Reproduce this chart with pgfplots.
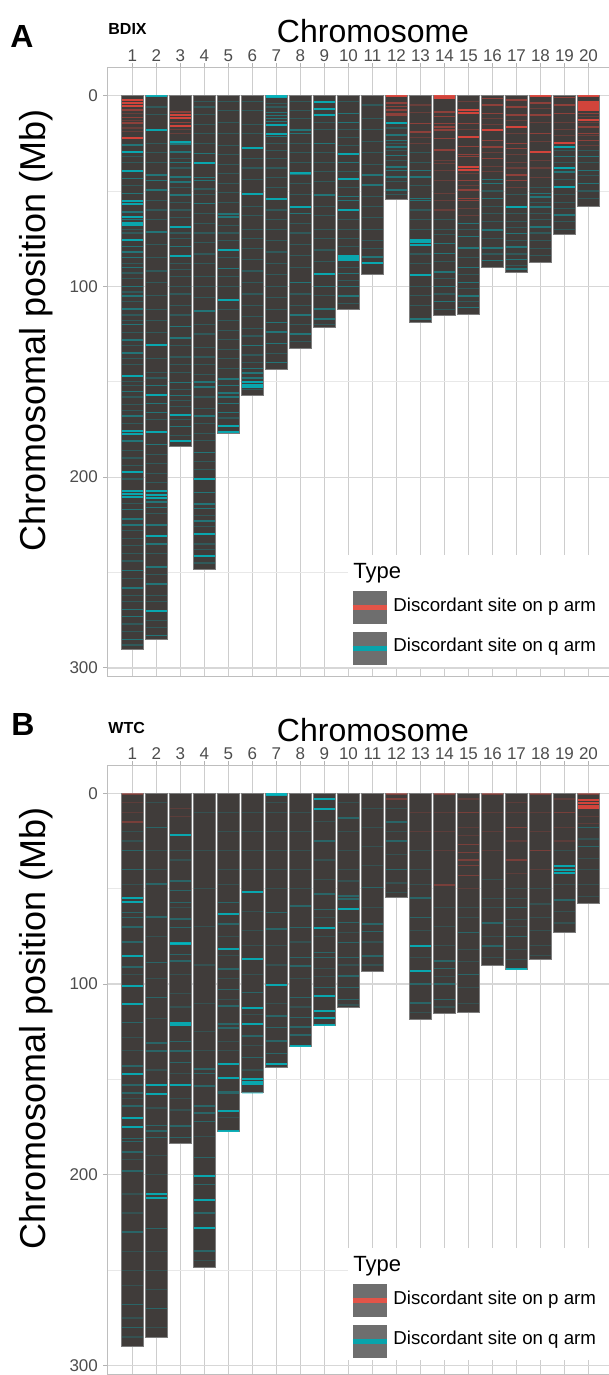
\documentclass[border=0pt]{standalone}
\usepackage{fontspec}
\setmainfont{Liberation Sans}
\usepackage{pgfplots}
\usepackage{pgfplotstable}
\pgfplotsset{compat=1.18}
\definecolor{barcol}{RGB}{64,60,58}
\definecolor{barline}{RGB}{125,125,125}
\definecolor{stred}{RGB}{235,70,60}
\definecolor{stcy}{RGB}{0,185,195}
\definecolor{legred}{RGB}{226,84,72}
\definecolor{legcy}{RGB}{8,164,172}
\definecolor{keygray}{RGB}{110,110,110}
\definecolor{ticklab}{RGB}{77,77,77}
\definecolor{gridx}{RGB}{205,205,205}
\definecolor{gridmaj}{RGB}{215,215,215}
\definecolor{gridmin}{RGB}{232,232,232}
\definecolor{bordcol}{RGB}{190,190,190}

% chromosome lengths (Mb)
\pgfplotstableread[row sep=\\]{x y\\
1 290.1\\ 2 285.1\\ 3 183.7\\ 4 248.3\\ 5 177.2\\ 6 156.9\\ 7 143.5\\ 8 132.5\\ 9 121.5\\ 10 112.2\\
11 93.5\\ 12 54.5\\ 13 118.7\\ 14 115.2\\ 15 114.6\\ 16 90.1\\ 17 92.5\\ 18 87.2\\ 19 72.9\\ 20 57.8\\}\chrlen

% ---------------- Panel A (BDIX) ----------------
\pgfplotstableread[row sep=\\]{x y\\
1 2.5\\ 1 4\\ 1 5.5\\ 1 22.5\\ 3 10\\ 3 12\\ 3 16\\ 12 0.3\\ 14 0.3\\ 14 1.2\\
15 7.6\\ 15 9.4\\ 15 21.6\\ 15 37.7\\ 15 38.8\\ 16 18.1\\ 17 16.4\\ 18 0.3\\ 18 29.5\\ 19 25.1\\
20 0.3\\ 20 3.5\\ 20 4.5\\ 20 5.5\\ 20 6.5\\ 20 7.4\\ 20 12.9\\}\Arb
\pgfplotstableread[row sep=\\]{x y\\
1 7.5\\ 1 11.5\\ 1 14.5\\ 3 8.5\\ 3 14\\
12 4\\ 12 5.8\\ 12 7.6\\ 12 9.4\\ 12 10.2\\ 13 14.6\\ 13 19\\
14 8.5\\ 14 11\\ 14 14.6\\ 14 16.4\\ 14 18.1\\ 14 22.5\\ 14 28.6\\
15 14.6\\ 15 26.8\\ 15 31\\ 15 32\\ 15 44.4\\ 15 49.6\\ 15 54\\ 15 55\\
16 1.5\\ 16 5\\ 16 9.4\\ 16 23.5\\ 16 27\\ 16 33\\
17 2.4\\ 17 5.9\\ 17 10.2\\ 17 25.1\\ 17 27.7\\ 17 41.7\\ 17 44.4\\
18 4\\ 18 10.2\\ 18 19.9\\ 19 1\\ 19 5\\ 19 9.4\\ 20 9.4\\ 20 16.4\\ 20 19.9\\ 20 23.5\\}\Arm
\pgfplotstableread[row sep=\\]{x y\\
1 9.5\\ 1 13\\ 1 17\\ 1 19\\ 3 18\\ 3 20\\ 13 5\\ 13 9\\ 13 22\\ 13 25\\
14 34\\ 14 35.6\\ 14 39.2\\ 14 44.4\\ 14 51.4\\ 14 55\\ 14 60\\
15 3\\ 15 18\\ 15 41\\ 15 47\\ 15 59\\ 15 63\\ 16 12\\ 16 15\\ 16 30\\ 16 37\\ 16 40\\
17 13\\ 17 20\\ 17 31\\ 17 35\\ 17 38\\ 17 48\\ 18 7\\ 18 14\\ 18 24\\ 18 34\\ 18 38\\ 18 43\\
19 14\\ 19 18\\ 19 21\\ 20 11\\ 20 14\\ 20 21\\ 20 26\\}\Arf
\pgfplotstableread[row sep=\\]{x y\\
1 29.5\\ 1 39.5\\ 1 55.5\\ 1 57\\ 1 63.5\\ 1 66.8\\ 1 68\\ 1 75.9\\ 1 147.2\\ 1 176\\ 1 177.4\\ 1 197.5\\ 1 207.5\\ 1 209\\ 1 210.5\\
2 0.3\\ 2 18\\ 2 131\\ 2 157.2\\ 2 176.5\\ 2 207.5\\ 2 209.5\\ 2 211\\ 2 230.7\\ 2 270\\
3 24.2\\ 3 68.9\\ 3 84\\ 3 167.5\\ 3 180.8\\ 4 35.6\\ 4 201\\ 4 230\\ 4 241.5\\
5 81\\ 5 107\\ 5 173\\ 5 176.5\\ 6 27.7\\ 6 51.4\\ 6 150.2\\ 6 151.5\\ 6 152.9\\
7 0.3\\ 7 1\\ 7 15.5\\ 7 19.9\\ 7 54\\ 8 40.5\\ 8 58.4\\ 9 3.2\\ 9 7.3\\ 9 10.2\\ 9 93.3\\
10 30.7\\ 10 44\\ 10 60.1\\ 10 84\\ 10 85.2\\ 10 86.4\\ 11 88\\ 12 14.6\\
13 75.5\\ 13 77\\ 13 78.5\\ 13 94.2\\ 17 58.4\\ 19 26.8\\ 19 38.2\\ 19 47.9\\}\Aqb
\pgfplotstableread[row sep=\\]{x y\\
1 26\\ 1 43.5\\ 1 51.4\\ 1 61\\ 1 65\\ 1 79\\ 1 82\\ 1 85\\ 1 90\\ 1 100\\ 1 105\\ 1 112\\ 1 120\\ 1 128\\ 1 135\\ 1 155\\ 1 168\\ 1 181\\ 1 217\\ 1 222\\ 1 225\\ 1 249\\ 1 258\\ 1 269.3\\ 1 273\\ 1 285\\
2 41.7\\ 2 44.4\\ 2 49.6\\ 2 71.5\\ 2 152\\ 2 161.5\\ 2 166\\ 2 183\\ 2 213\\ 2 216\\ 2 225\\ 2 235\\ 2 247\\ 2 256\\ 2 283\\
3 25.5\\ 3 29.5\\ 3 35\\ 3 42.6\\ 3 45.2\\ 3 52\\ 3 79\\ 3 121\\ 3 127\\ 3 150.5\\ 3 157.2\\ 3 173.5\\
4 30.4\\ 4 43\\ 4 44.5\\ 4 56.6\\ 4 113\\ 4 150.2\\ 4 152.8\\ 4 168\\ 4 187\\ 4 208\\ 4 214\\ 4 216.5\\ 4 223\\
5 62\\ 5 63.6\\ 5 90.7\\ 5 148.5\\ 5 152\\ 5 156\\ 5 158\\ 5 161.5\\ 5 166\\
6 131\\ 6 143\\ 6 145.5\\ 6 148\\
7 9\\ 7 10.5\\ 7 12\\ 7 13.5\\ 7 21.5\\ 7 119\\ 7 124\\ 7 130\\ 7 140\\
8 18\\ 8 20\\ 8 41.5\\ 8 61.9\\ 8 98\\ 8 115\\ 8 125\\
9 25.1\\ 9 52.2\\ 9 100\\ 9 112\\ 9 117\\
10 9.4\\ 10 14\\ 10 35\\ 10 53\\ 10 55\\ 10 93.3\\ 10 100\\ 10 105\\
11 41.7\\ 11 47\\ 11 84.6\\
12 20.7\\ 12 23.5\\ 12 27\\ 12 31.5\\ 12 37.4\\ 12 39.2\\ 12 42.6\\ 12 49.6\\
13 39.2\\ 13 42.6\\ 13 54\\ 13 55\\ 13 117\\
14 77.6\\ 14 82.9\\ 14 92.5\\ 14 100\\ 14 108\\
15 67\\ 15 74\\ 15 80\\ 15 90\\ 15 98\\ 15 105\\ 15 111\\
16 44\\ 16 46\\ 16 54\\ 16 70.6\\ 16 80\\ 16 86.4\\
17 72.4\\ 17 79.4\\ 17 86\\ 17 91\\ 18 51.4\\ 18 53.1\\ 18 58.4\\ 18 68.9\\
19 32\\ 19 40\\ 19 62.7\\ 20 32\\ 20 39.2\\ 20 46.2\\}\Aqm
\pgfplotstableread[row sep=\\]{x y\\
1 32\\ 1 35\\ 1 47\\ 1 70\\ 1 72\\ 1 88\\ 1 93\\ 1 96\\ 1 103\\ 1 108\\ 1 115\\ 1 118\\ 1 124\\ 1 131\\ 1 138\\ 1 141\\ 1 150\\ 1 152\\ 1 158\\ 1 162\\ 1 165\\ 1 172\\ 1 186\\ 1 190\\ 1 194\\ 1 201\\ 1 214\\ 1 228\\ 1 232\\ 1 236\\ 1 240\\ 1 244\\ 1 253\\ 1 262\\ 1 265\\ 1 277\\ 1 281\\ 1 288\\
2 6\\ 2 10\\ 2 25\\ 2 30\\ 2 35\\ 2 55\\ 2 60\\ 2 65\\ 2 78\\ 2 85\\ 2 92\\ 2 98\\ 2 105\\ 2 112\\ 2 118\\ 2 124\\ 2 138\\ 2 145\\ 2 148\\ 2 170\\ 2 188\\ 2 193\\ 2 198\\ 2 203\\ 2 219\\ 2 240\\ 2 251\\ 2 262\\ 2 265\\ 2 275\\ 2 279\\
3 33\\ 3 38\\ 3 48\\ 3 56\\ 3 60\\ 3 64\\ 3 72\\ 3 75\\ 3 88\\ 3 91\\ 3 95\\ 3 100\\ 3 104\\ 3 110\\ 3 115\\ 3 131\\ 3 137\\ 3 141\\ 3 145\\ 3 154\\ 3 160\\ 3 163\\ 3 170\\ 3 178\\
4 3\\ 4 6\\ 4 10\\ 4 15\\ 4 20\\ 4 25\\ 4 49\\ 4 52\\ 4 62\\ 4 67\\ 4 72\\ 4 77\\ 4 83\\ 4 88\\ 4 95\\ 4 100\\ 4 106\\ 4 120\\ 4 125\\ 4 132\\ 4 137\\ 4 141\\ 4 146\\ 4 158\\ 4 164\\ 4 172\\ 4 177\\ 4 181\\ 4 192\\ 4 196\\ 4 220\\ 4 226\\ 4 235\\ 4 238\\ 4 245\\
5 3\\ 5 8\\ 5 14\\ 5 20\\ 5 26\\ 5 31\\ 5 36\\ 5 41\\ 5 46\\ 5 51\\ 5 56\\ 5 68\\ 5 72\\ 5 76\\ 5 85\\ 5 95\\ 5 100\\ 5 112\\ 5 118\\ 5 123\\ 5 128\\ 5 133\\ 5 138\\ 5 143\\ 5 169\\
6 3\\ 6 8\\ 6 15\\ 6 20\\ 6 33\\ 6 38\\ 6 44\\ 6 58\\ 6 63\\ 6 70\\ 6 75\\ 6 80\\ 6 86\\ 6 92\\ 6 98\\ 6 104\\ 6 110\\ 6 116\\ 6 122\\ 6 126\\ 6 136\\ 6 140\\ 6 154\\
7 4\\ 7 6\\ 7 25\\ 7 29\\ 7 33\\ 7 38\\ 7 43\\ 7 48\\ 7 60\\ 7 65\\ 7 70\\ 7 76\\ 7 82\\ 7 88\\ 7 94\\ 7 100\\ 7 106\\ 7 112\\ 7 135\\
8 3\\ 8 8\\ 8 12\\ 8 25\\ 8 30\\ 8 35\\ 8 46\\ 8 52\\ 8 67\\ 8 72\\ 8 78\\ 8 84\\ 8 90\\ 8 104\\ 8 110\\ 8 120\\ 8 129\\
9 14\\ 9 18\\ 9 30\\ 9 35\\ 9 40\\ 9 45\\ 9 58\\ 9 63\\ 9 70\\ 9 75\\ 9 81\\ 9 87\\ 9 105\\ 9 120\\
10 3\\ 10 18\\ 10 22\\ 10 26\\ 10 40\\ 10 48\\ 10 65\\ 10 70\\ 10 75\\ 10 79\\ 10 90\\ 10 97\\ 10 109\\
11 5\\ 11 12\\ 11 18\\ 11 24\\ 11 30\\ 11 36\\ 11 53\\ 11 58\\ 11 64\\ 11 70\\ 11 76\\ 11 80\\
12 17\\ 12 25\\ 12 29\\ 12 34\\ 12 45\\ 12 52\\
13 30\\ 13 35\\ 13 47\\ 13 60\\ 13 65\\ 13 70\\ 13 83\\ 13 88\\ 13 100\\ 13 105\\ 13 110\\
14 65\\ 14 70\\ 14 73\\ 14 87\\ 14 96\\ 14 104\\ 14 112\\ 15 70\\ 15 85\\ 15 94\\ 15 101\\ 15 108\\
16 50\\ 16 58\\ 16 62\\ 16 66\\ 16 75\\ 16 83\\ 17 52\\ 17 62\\ 17 66\\ 17 69\\ 17 76\\ 17 83\\ 17 89\\
18 48\\ 18 56\\ 18 62\\ 18 65\\ 18 72\\ 18 76\\ 18 80\\ 18 84\\
19 29\\ 19 35\\ 19 44\\ 19 52\\ 19 56\\ 19 59\\ 19 66\\ 19 70\\ 20 29\\ 20 35\\ 20 42\\ 20 50\\ 20 54\\}\Aqf

% ---------------- Panel B (WTC) ----------------
\pgfplotstableread[row sep=\\]{x y\\
20 3.5\\ 20 5\\ 20 6.5\\ 20 7.8\\}\Brb
\pgfplotstableread[row sep=\\]{x y\\
1 0.3\\ 1 15\\ 12 0.3\\ 12 3\\ 14 0.3\\ 14 48\\ 15 10\\ 15 27\\ 15 31\\ 15 35\\ 15 38\\ 15 43\\
16 0.3\\ 17 18\\ 17 35\\ 18 0.3\\ 18 30\\ 19 10\\ 20 0.3\\}\Brm
\pgfplotstableread[row sep=\\]{x y\\
1 5\\ 1 10\\ 3 8\\ 3 12\\ 13 10\\ 13 20\\ 14 10\\ 14 20\\ 14 30\\ 15 3\\ 15 18\\ 15 22\\ 15 50\\
16 10\\ 16 20\\ 16 30\\ 17 5\\ 17 10\\ 17 25\\ 17 42\\ 18 10\\ 18 20\\ 18 40\\ 19 3\\ 19 18\\ 19 25\\ 20 12\\ 20 16\\}\Brf
\pgfplotstableread[row sep=\\]{x y\\
1 55\\ 1 57\\ 1 85.2\\ 1 101\\ 1 110.6\\ 1 147.3\\ 1 170\\ 1 175\\ 2 152.9\\ 2 157.4\\ 2 210\\ 2 212\\
3 22\\ 3 78.4\\ 3 79.1\\ 3 120.2\\ 3 121.4\\ 3 152.9\\ 4 200.6\\ 4 213\\ 4 228\\
5 63.4\\ 5 81.8\\ 5 142\\ 5 149\\ 5 166.5\\ 5 177\\ 6 52\\ 6 87\\ 6 112.3\\ 6 121.1\\ 6 150\\ 6 151.3\\ 6 152.5\\
7 0.3\\ 7 1\\ 7 100.4\\ 7 141.7\\ 8 132.4\\ 9 3\\ 9 8\\ 9 70.4\\ 9 106.2\\ 9 114.1\\ 9 117.6\\ 9 121.6\\
10 60.8\\ 13 80\\ 13 93\\ 17 92\\ 19 38\\ 19 40\\ 19 42\\}\Bqb
\pgfplotstableread[row sep=\\]{x y\\
1 30\\ 1 40\\ 1 62.5\\ 1 65\\ 1 70\\ 1 78\\ 1 91\\ 1 120\\ 1 143\\ 1 153\\ 1 157\\ 1 164\\ 1 181\\ 1 182.5\\ 1 188\\ 1 198\\ 1 230\\ 1 268\\ 1 280\\
2 18\\ 2 47.6\\ 2 64.8\\ 2 88.7\\ 2 107\\ 2 131\\ 2 135\\ 2 174\\ 2 177\\ 2 180.5\\ 2 228\\ 2 270\\
3 45.9\\ 3 51\\ 3 57.3\\ 3 66\\ 3 70.4\\ 3 84.4\\ 3 88\\ 3 130\\ 3 135\\ 3 141\\ 3 174.4\\ 3 180.5\\
4 144.6\\ 4 147\\ 4 153.4\\ 4 164\\ 4 167.5\\ 4 172\\ 4 191\\ 4 205\\ 4 220\\ 4 240\\
5 57.3\\ 5 68.6\\ 5 92.2\\ 5 102.7\\ 5 111.5\\ 5 121\\ 5 123\\ 5 156.5\\ 5 157.5\\
6 104.5\\ 6 127.2\\ 6 138.5\\ 6 157\\ 7 62.5\\ 7 71.2\\ 7 116.7\\ 7 122.8\\ 7 129.8\\ 7 136.5\\
8 59\\ 8 70.4\\ 8 86.1\\ 8 90.5\\ 8 107.1\\ 8 117.6\\ 8 122.5\\ 8 126.7\\
9 25\\ 9 52.9\\ 9 60.8\\ 9 83.5\\ 9 86\\ 9 101.8\\
10 13\\ 10 53.8\\ 10 55.5\\ 10 67.8\\ 10 78.2\\ 10 86.1\\ 10 95.7\\ 10 101.8\\ 10 108\\
11 49.4\\ 11 68.6\\ 11 72.5\\ 11 85.2\\ 12 15\\ 12 25\\ 12 40\\ 13 55\\ 13 65\\ 13 100\\ 13 110\\
14 88\\ 14 92\\ 14 100\\ 14 108\\ 15 73\\ 15 95\\ 16 68\\ 16 80\\ 17 60\\ 17 75\\ 19 56\\ 20 18\\ 20 28\\}\Bqm
\pgfplotstableread[row sep=\\]{x y\\
1 20\\ 1 25\\ 1 48\\ 1 95\\ 1 128\\ 1 135\\ 1 160\\ 1 192\\ 1 210\\ 1 220\\ 1 240\\ 1 250\\ 1 258\\ 1 275\\ 1 285\\
2 5\\ 2 30\\ 2 40\\ 2 75\\ 2 97\\ 2 118\\ 2 145\\ 2 165\\ 2 190\\ 2 200\\ 2 240\\ 2 250\\ 2 260\\ 2 280\\
3 30\\ 3 35\\ 3 60\\ 3 95\\ 3 105\\ 3 112\\ 3 147\\ 3 160\\ 3 166\\
4 10\\ 4 30\\ 4 50\\ 4 70\\ 4 90\\ 4 110\\ 4 125\\ 4 135\\ 4 180\\ 4 245\\
5 10\\ 5 20\\ 5 30\\ 5 40\\ 5 48\\ 5 75\\ 5 85\\ 5 97\\ 5 108\\ 5 130\\ 5 135\\ 5 170\\
6 10\\ 6 20\\ 6 30\\ 6 40\\ 6 62\\ 6 72\\ 6 80\\ 6 95\\ 6 116\\ 6 132\\ 6 145\\
7 5\\ 7 10\\ 7 20\\ 7 30\\ 7 40\\ 7 50\\ 7 80\\ 7 90\\ 7 110\\
8 10\\ 8 20\\ 8 30\\ 8 40\\ 8 50\\ 8 78\\ 8 97\\ 8 112\\
9 15\\ 9 35\\ 9 45\\ 9 65\\ 9 75\\ 9 92\\ 9 96\\
10 5\\ 10 20\\ 10 30\\ 10 40\\ 10 46\\ 10 73\\ 10 90\\ 10 111\\
11 8\\ 11 18\\ 11 28\\ 11 38\\ 11 60\\ 11 78\\ 11 90\\ 12 8\\ 12 20\\ 12 32\\ 12 47\\ 12 52\\
13 30\\ 13 40\\ 13 48\\ 13 72\\ 13 86\\ 13 115\\ 14 60\\ 14 70\\ 14 80\\ 14 96\\ 14 112\\
15 60\\ 15 65\\ 15 82\\ 15 88\\ 15 102\\ 15 110\\ 16 45\\ 16 55\\ 16 60\\ 16 75\\ 16 86\\
17 50\\ 17 55\\ 17 66\\ 17 70\\ 17 82\\ 17 87\\ 18 50\\ 18 58\\ 18 65\\ 18 72\\ 18 80\\ 18 85\\
19 30\\ 19 48\\ 19 62\\ 19 68\\ 20 24\\ 20 34\\ 20 40\\ 20 48\\ 20 54\\}\Bqf

\pgfplotsset{
  chrax/.style={
    scale only axis, width=252.96pt, height=304.7pt, anchor=north west,
    xmin=-0.04, xmax=21.04, ymin=-14.8, ymax=304.6, y dir=reverse,
    axis line style={draw=bordcol, line width=0.5pt},
    xtick={1,...,20}, xtick pos=right, xticklabel pos=right,
    ytick={0,100,200,300}, minor ytick={50,150,250}, ytick pos=left,
    xmajorgrids, ymajorgrids, yminorgrids,
    major x grid style={draw=gridx, line width=0.6pt},
    major y grid style={draw=gridmaj, line width=0.6pt},
    minor y grid style={draw=gridmin, line width=0.4pt},
    tick align=outside, major tick length=2pt, minor tick length=0pt,
    major tick style={draw=gray!60, line width=0.5pt},
    tick label style={font=\fontsize{8.5}{10}\selectfont, text=ticklab},
    xticklabel style={inner sep=0.6pt},
    yticklabel style={inner sep=0pt, xshift=-2.6pt},
    /pgf/number format/assume math mode=true,
  },
  barsty/.style={ybar, bar width=0.9, bar shift=0pt, fill=barcol, draw=barline, line width=0.3pt},
  strb/.style={only marks, mark=-, mark size=5.4pt, mark options={line width=1pt, opacity=0.85}},
  strm/.style={only marks, mark=-, mark size=5.4pt, mark options={line width=0.75pt, opacity=0.45}},
  strf/.style={only marks, mark=-, mark size=5.4pt, mark options={line width=0.6pt, opacity=0.24}},
  strmB/.style={only marks, mark=-, mark size=5.4pt, mark options={line width=0.7pt, opacity=0.33}},
  strfB/.style={only marks, mark=-, mark size=5.4pt, mark options={line width=0.6pt, opacity=0.17}},
}

\begin{document}
\begin{tikzpicture}
\path[use as bounding box] (0pt,0pt) rectangle (304.5pt,-687.5pt);

% Panel A
\begin{axis}[chrax, at={(53.75pt,-33.65pt)}]
\addplot[barsty] table[x=x,y=y]{\chrlen};
\addplot[strf, color=stcy] table[x=x,y=y]{\Aqf};
\addplot[strf, color=stred] table[x=x,y=y]{\Arf};
\addplot[strm, color=stcy] table[x=x,y=y]{\Aqm};
\addplot[strm, color=stred] table[x=x,y=y]{\Arm};
\addplot[strb, color=stcy] table[x=x,y=y]{\Aqb};
\addplot[strb, color=stred] table[x=x,y=y]{\Arb};
\end{axis}

% Panel B
\begin{axis}[chrax, at={(53.75pt,-382.5pt)}]
\addplot[barsty] table[x=x,y=y]{\chrlen};
\addplot[strfB, color=stcy] table[x=x,y=y]{\Bqf};
\addplot[strfB, color=stred] table[x=x,y=y]{\Brf};
\addplot[strmB, color=stcy] table[x=x,y=y]{\Bqm};
\addplot[strmB, color=stred] table[x=x,y=y]{\Brm};
\addplot[strb, color=stcy] table[x=x,y=y]{\Bqb};
\addplot[strb, color=stred] table[x=x,y=y]{\Brb};
\end{axis}

\begin{scope}[x=0.5pt,y=-0.5pt]
% panel letters and subtitles
\node[anchor=base west, inner sep=0pt] at (10,48) {\fontsize{16}{16}\selectfont\bfseries A};
\node[anchor=base west, inner sep=0pt] at (11,735) {\fontsize{16}{16}\selectfont\bfseries B};
\node[anchor=base west, inner sep=0pt] at (108,35) {\fontsize{8}{8}\selectfont\bfseries BDIX};
\node[anchor=base west, inner sep=0pt] at (108,733) {\fontsize{8}{8}\selectfont\bfseries WTC};
% titles
\node[anchor=base, inner sep=0pt] at (373,43) {\fontsize{16}{16}\selectfont Chromosome};
\node[anchor=base, inner sep=0pt] at (373,741) {\fontsize{16}{16}\selectfont Chromosome};
\node[anchor=base, inner sep=0pt, rotate=90] at (46,330) {\fontsize{18}{18}\selectfont Chromosomal position (Mb)};
\node[anchor=base, inner sep=0pt, rotate=90] at (46,1028) {\fontsize{18}{18}\selectfont Chromosomal position (Mb)};
% legends
\foreach \dy in {0,693}{
  \fill[white] (348,555+\dy) rectangle (620,667+\dy);
  \node[anchor=base west, inner sep=0pt] at (353,578.5+\dy) {\fontsize{11}{11}\selectfont Type};
  \fill[keygray] (352.7,590.7+\dy) rectangle (386.7,624+\dy);
  \draw[legred, line width=2.5pt] (352.7,607.3+\dy) -- (386.7,607.3+\dy);
  \node[anchor=west, inner sep=0pt] at (393,607+\dy) {\fontsize{9.35}{10}\selectfont Discordant site on p arm};
  \fill[keygray] (352.7,631.7+\dy) rectangle (386.7,665+\dy);
  \draw[legcy, line width=2.5pt] (352.7,648.3+\dy) -- (386.7,648.3+\dy);
  \node[anchor=west, inner sep=0pt] at (393,647+\dy) {\fontsize{9.35}{10}\selectfont Discordant site on q arm};
}
\end{scope}
\end{tikzpicture}
\end{document}
